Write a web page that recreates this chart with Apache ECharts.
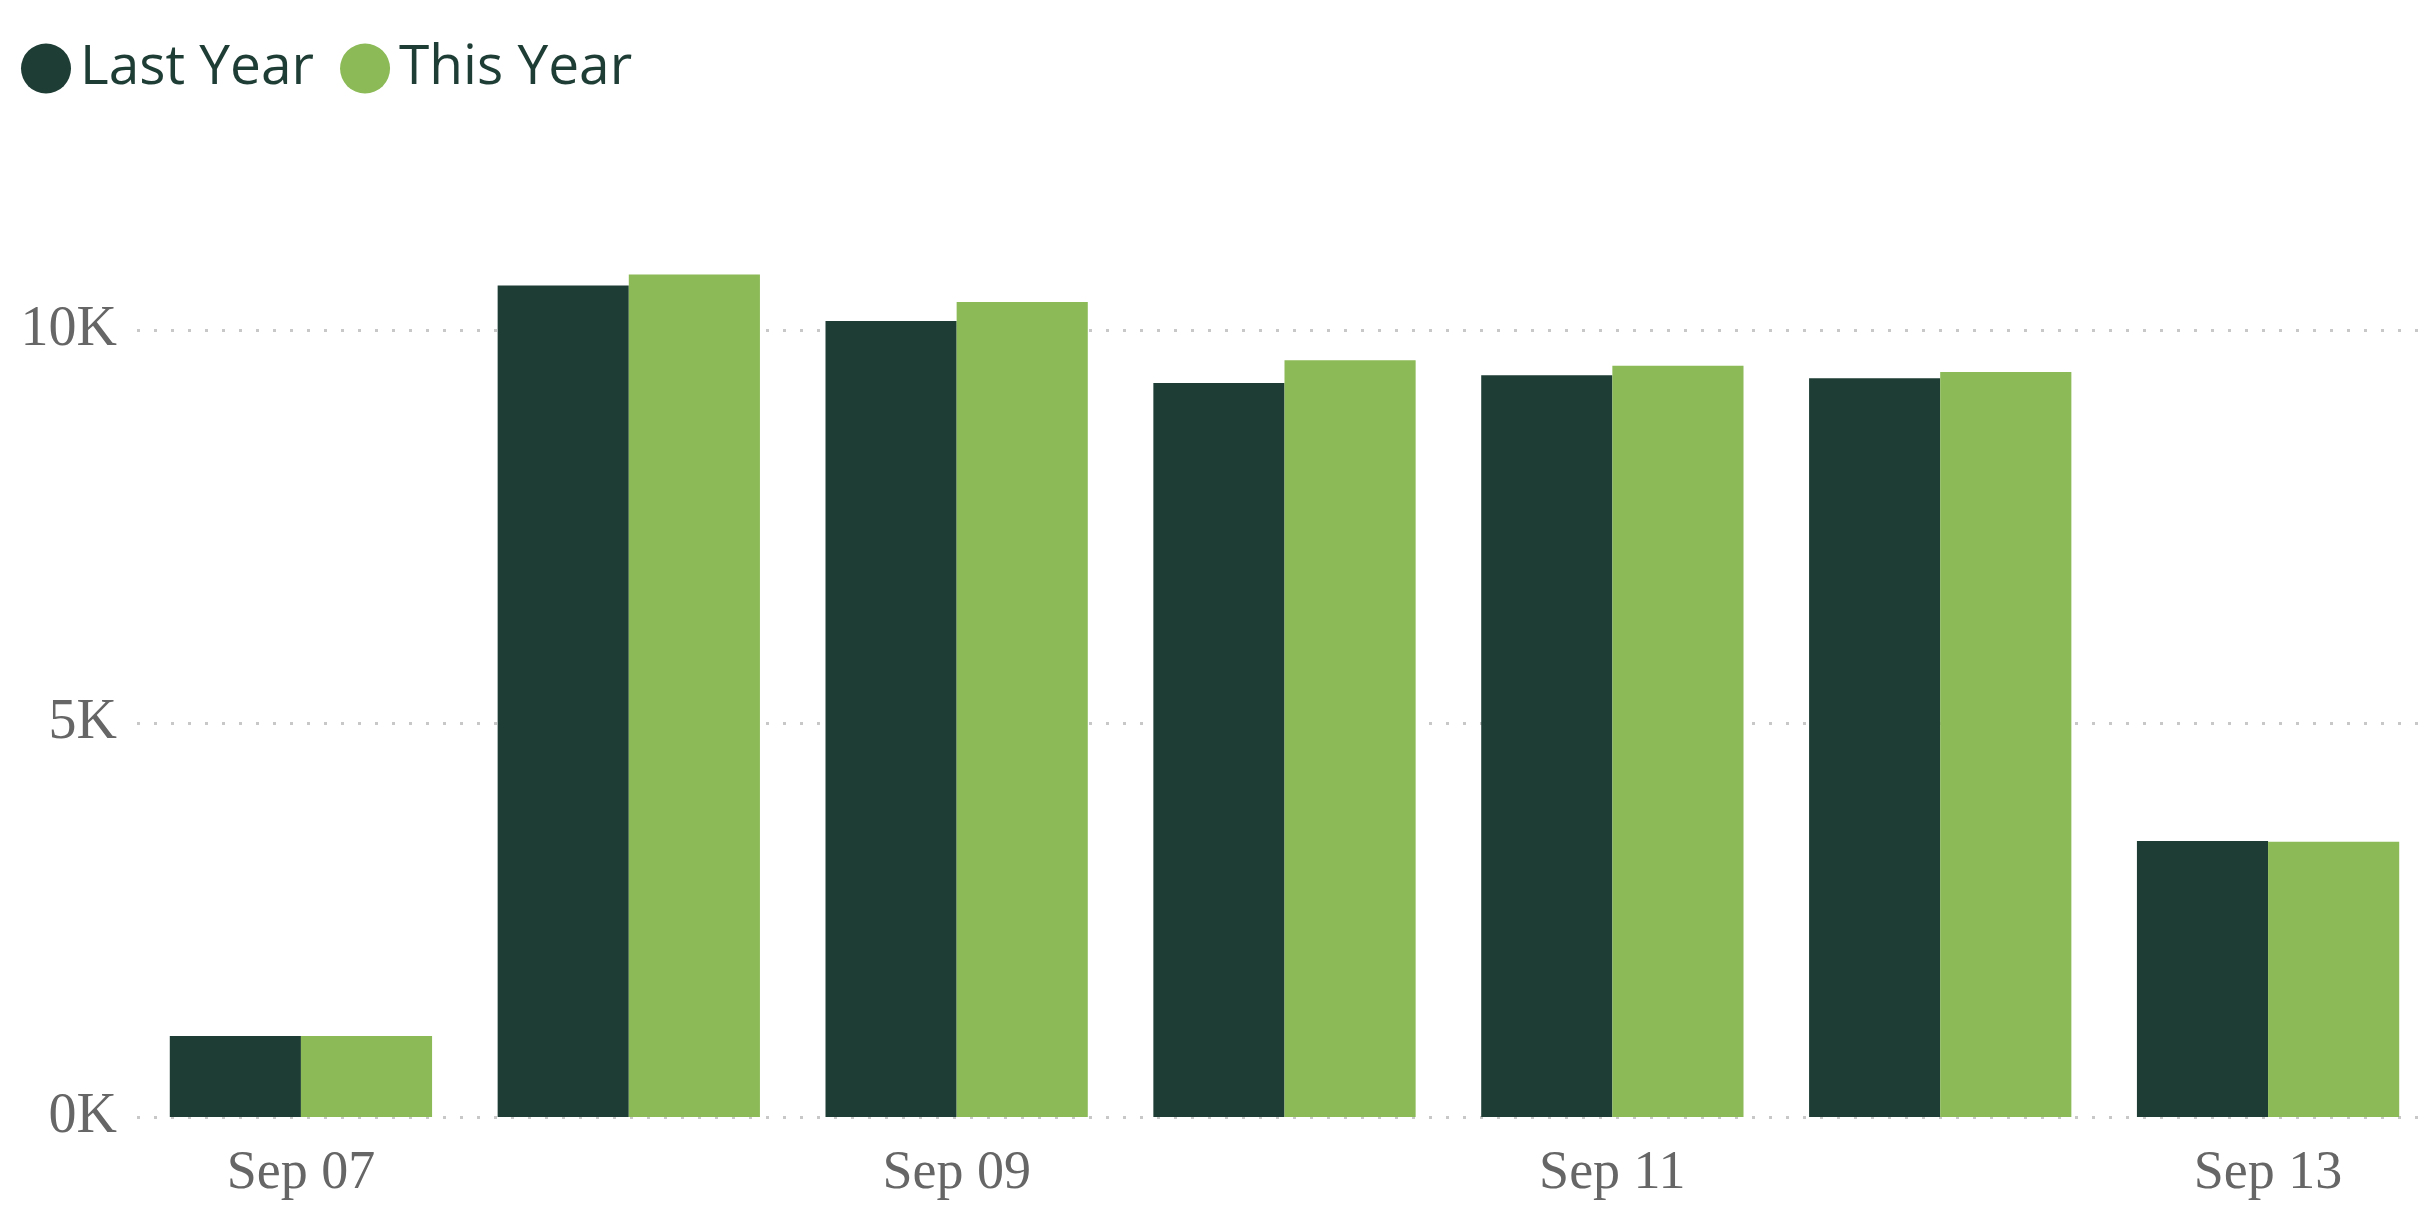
<!DOCTYPE html>
<html><head><meta charset="utf-8">
<script src="https://cdn.jsdelivr.net/npm/echarts@6/dist/echarts.min.js"></script>
<style>html,body{margin:0;background:#fff}#c{width:2432px;height:1232px}</style>
</head><body><div id="c"></div>
<script>
const categories = ["Sep 07","Sep 08","Sep 09","Sep 10","Sep 11","Sep 12","Sep 13"];
const lastYear = [1030,10570,10120,9330,9430,9390,3510];
const thisYear = [1030,10710,10360,9620,9550,9470,3500];
const chart = echarts.init(document.getElementById('c'));
chart.setOption({
  animation:false,
  color:['#1E3D35','#8BBA56'],
  legend:{left:16,top:36,itemWidth:50,itemHeight:50,icon:'circle',itemGap:26,
    textStyle:{fontFamily:'Open Sans',fontSize:55,color:'#1E3D35',padding:[0,0,0,4]}},
  grid:{left:137,right:-33,top:173,bottom:115},
  xAxis:{type:'category',data:categories,
    axisLine:{show:false},axisTick:{show:false},
    axisLabel:{interval:1,fontFamily:'Liberation Serif',fontSize:54,color:'#666',margin:30}},
  yAxis:{type:'value',min:0,max:12000,interval:5000,
    axisLabel:{formatter:v=>(v/1000)+'K',fontFamily:'Liberation Serif',fontSize:56,color:'#666',margin:20,showMaxLabel:false},
    splitLine:{showMaxLine:false,lineStyle:{color:'#c8c8c8',type:[3,14],width:3}}},
  series:[
    {name:'Last Year',type:'bar',data:lastYear,barGap:'0%',barCategoryGap:'20%'},
    {name:'This Year',type:'bar',data:thisYear,barGap:'0%',barCategoryGap:'20%'}
  ]
});
</script></body></html>
